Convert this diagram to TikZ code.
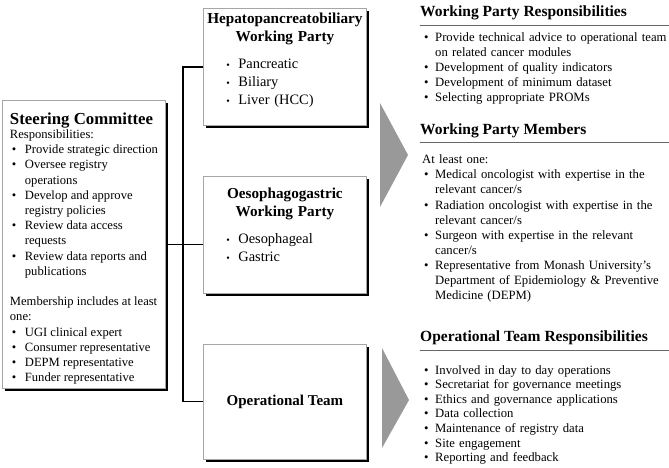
\documentclass[tikz,border=0pt]{standalone}
\usepackage{fontspec}
\setmainfont{Liberation Serif}
\usetikzlibrary{positioning, shadows}

\newcommand{\bitem}[2][15pt]{\makebox[#1][l]{\hspace{2pt}\textbullet}#2}
\newcommand{\bcont}[2][15pt]{\hspace*{#1}#2}
\newcommand{\sbitem}[1]{\hspace*{15pt}\makebox[12pt][l]{\fontsize{10}{10}\selectfont\textbullet}#1}
\newcommand{\boxhead}[1]{\makebox[\linewidth]{\fontsize{15.2}{18}\selectfont\bfseries #1}}
\newcommand{\pad}[1]{\rule[-#1]{0pt}{#1}}

\begin{document}
\begin{tikzpicture}[
  x=1pt, y=-1pt,
  box/.style = {draw=black!35, line width=0.8pt, fill=white, inner sep=0pt,
    minimum width=163pt,
    drop shadow={shadow xshift=2.5pt, shadow yshift=-2.5pt, fill=black, opacity=1}},
  wpbox/.style = {box, text width=147pt, minimum height=117pt, align=left,
    font=\fontsize{14.4}{18}\selectfont},
  link/.style = {line width=1.6pt},
  head/.style = {inner sep=0pt, font=\fontsize{15.5}{18}\selectfont\bfseries},
  txt/.style = {inner sep=0pt, text width=247pt, align=left,
    font=\fontsize{12.7}{14.8}\selectfont},
  hrule/.style = {draw=black!60, line width=0.8pt},
  chevron/.style = {fill=black!40}
]
  \useasboundingbox (0,0) rectangle (669,468);

  % Steering committee
  \node[box, anchor=north west, minimum height=288pt, align=left,
        font=\fontsize{12.6}{15.2}\selectfont] (steer) at (2,100) {
    \rule{0pt}{20pt}{\fontsize{16.8}{18}\selectfont\bfseries Steering Committee}\\[-1.2pt]
    Responsibilities:\\
    \bitem{Provide strategic direction}\\
    \bitem{Oversee registry}\\
    \bcont{operations}\\
    \bitem{Develop and approve}\\
    \bcont{registry policies}\\
    \bitem{Review data access}\\
    \bcont{requests}\\
    \bitem{Review data reports and}\\
    \bcont{publications}\\[15.2pt]
    Membership includes at least\\
    one:\\
    \bitem{UGI clinical expert}\\
    \bitem{Consumer representative}\\
    \bitem{DEPM representative}\\
    \bitem{Funder representative}
  };

  % Working parties
  \node[wpbox, anchor=north west] (hpb) at (203,8) {
    \boxhead{Hepatopancreatobiliary}\\
    \boxhead{Working Party}\\[9pt]
    \sbitem{Pancreatic}\\
    \sbitem{Biliary}\\
    \sbitem{Liver (HCC)\pad{16.4pt}}
  };
  \node[wpbox, below=50pt of hpb] (og) {
    \boxhead{Oesophagogastric}\\
    \boxhead{Working Party}\\[9pt]
    \sbitem{Oesophageal}\\
    \sbitem{Gastric\pad{20pt}}
  };

  % Operational team
  \node[box, below=50pt of og, minimum height=115pt,
        font=\fontsize{15}{18}\selectfont\bfseries] (ops) {Operational Team};

  % committee -> parties and team
  \coordinate (bustop) at ([xshift=-20pt]hpb.west);
  \coordinate (busbot) at ([xshift=-20pt]ops.west);
  \draw[link] (hpb.west) -- (bustop) -- (busbot) -- (ops.west);
  \draw[link] (steer.east) -- (steer.east -| og.west);

  % chevrons
  \fill[chevron] (380,103) -- (408,155) -- (380,207) -- cycle;
  \fill[chevron] (382,348) -- (409,400) -- (382,448) -- cycle;

  % Working party responsibilities
  \node[head, anchor=base west] (wprhead) at (420,16.5) {Working Party Responsibilities};
  \draw[hrule] ([yshift=-8.5pt]wprhead.base west) -- ++(249,0);
  \node[txt, anchor=base west] (wprtext) at (422,42) {
    \bitem[13pt]{Provide technical advice to operational team}\\
    \bcont[13pt]{on related cancer modules}\\
    \bitem[13pt]{Development of quality indicators}\\
    \bitem[13pt]{Development of minimum dataset}\\
    \bitem[13pt]{Selecting appropriate PROMs}
  };

  % Working party members
  \node[head, anchor=base west] (wpmhead) at (420,134.5) {Working Party Members};
  \draw[hrule] ([yshift=-8pt]wpmhead.base west) -- ++(249,0);
  \node[txt, anchor=base west, font=\fontsize{12.7}{15}\selectfont] (wpmtext) at (422,164) {
    At least one:\\
    \bitem[13pt]{Medical oncologist with expertise in the}\\
    \bcont[13pt]{relevant cancer/s}\\
    \bitem[13pt]{Radiation oncologist with expertise in the}\\
    \bcont[13pt]{relevant cancer/s}\\
    \bitem[13pt]{Surgeon with expertise in the relevant}\\
    \bcont[13pt]{cancer/s}\\
    \bitem[13pt]{Representative from Monash University’s}\\
    \bcont[13pt]{Department of Epidemiology \& Preventive}\\
    \bcont[13pt]{Medicine (DEPM)}
  };

  % Operational team responsibilities
  \node[head, anchor=base west] (otrhead) at (420,341.5) {Operational Team Responsibilities};
  \draw[hrule] ([yshift=-8.5pt]otrhead.base west) -- ++(249,0);
  \node[txt, anchor=base west, font=\fontsize{12.7}{14.6}\selectfont] (otrtext) at (422,374) {
    \bitem[13pt]{Involved in day to day operations}\\
    \bitem[13pt]{Secretariat for governance meetings}\\
    \bitem[13pt]{Ethics and governance applications}\\
    \bitem[13pt]{Data collection}\\
    \bitem[13pt]{Maintenance of registry data}\\
    \bitem[13pt]{Site engagement}\\
    \bitem[13pt]{Reporting and feedback}
  };
\end{tikzpicture}
\end{document}
